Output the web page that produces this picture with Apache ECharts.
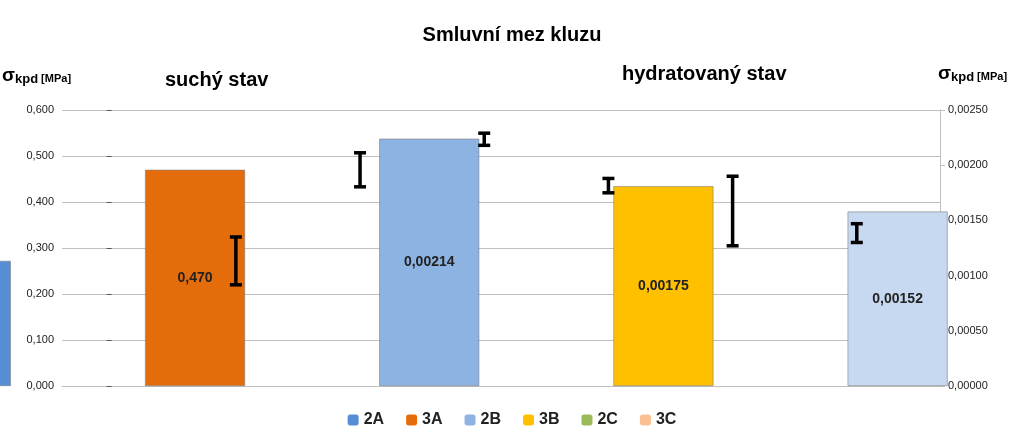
<!DOCTYPE html><html><head><meta charset="utf-8"><script src="https://cdn.jsdelivr.net/npm/echarts@6/dist/echarts.min.js"></script></head><body style="margin:0"><div id="c" style="width:1024px;height:437px"></div><script>
const categories=['','2A','3A','2B','3B','2C','3C'];
const names=['2A','3A','2B','3B','2C','3C'];
const values=[0.272,0.470,0.00224,0.00181,0.00158,0.00138];
const errLow=[0.220,0.433,0.00218,0.00175,0.00127,0.00130];
const errHigh=[0.324,0.507,0.00229,0.00188,0.00190,0.00147];
const labels=['0,272','0,470','0,00214','0,00175','0,00152','0,00133'];
const axisIdx=[0,0,1,1,1,1];
const colors=['#558ed5','#e46c0a','#8db3e2','#ffc000','#c6d9f1','#fac090'];
const legendColors=['#558ed5','#e46c0a','#8db3e2','#ffc000','#9bbb59','#fac090'];
const fmt=(v,d)=>v.toFixed(d).replace('.',',');
const series=names.map((n,i)=>({name:n,type:'bar',yAxisIndex:axisIdx[i],barWidth:100,
 itemStyle:{color:colors[i],borderColor:'#7f7f7f',borderWidth:0.6},
 label:{show:true,position:'inside',formatter:()=>labels[i],color:'#222',fontWeight:'bold',fontSize:14,fontFamily:'Liberation Sans'},
 data:[[categories.indexOf(n),values[i]]]}));
names.forEach((n,i)=>series.push({type:'custom',yAxisIndex:axisIdx[i],z:10,silent:true,
 data:[[categories.indexOf(n),errLow[i],errHigh[i]]],
 renderItem:(p,api)=>{const lo=api.coord([api.value(0),api.value(1)]),hi=api.coord([api.value(0),api.value(2)]);const w=6;
 const st={stroke:'#000',lineWidth:3.5};
 return {type:'group',children:[{type:'line',shape:{x1:lo[0],y1:lo[1],x2:hi[0],y2:hi[1]},style:st},
 {type:'line',shape:{x1:lo[0]-w,y1:lo[1],x2:lo[0]+w,y2:lo[1]},style:st},{type:'line',shape:{x1:hi[0]-w,y1:hi[1],x2:hi[0]+w,y2:hi[1]},style:st}]};}}));
const ch=echarts.init(document.getElementById('c'));
ch.setOption({animation:false,textStyle:{fontFamily:'Liberation Sans'},
 title:{text:'Smluvní mez kluzu',left:'center',top:20,textStyle:{fontSize:20,fontWeight:'bold',color:'#000'}},
 graphic:[{type:'text',left:165,top:70,style:{text:'suchý stav',fontSize:20,fontWeight:'bold',fill:'#000'}},
 {type:'text',left:622,top:64,style:{text:'hydratovaný stav',fontSize:20,fontWeight:'bold',fill:'#000'}},
 {type:'text',left:2,top:66,style:{rich:{a:{fontSize:19,fontWeight:'bold'},b:{fontSize:13,fontWeight:'bold',padding:[8,0,0,0]},c:{fontSize:11,fontWeight:'bold',padding:[6,0,0,3]}},text:'{a|σ}{b|kpd}{c|[MPa]}'}},
 {type:'text',left:938,top:64,style:{rich:{a:{fontSize:19,fontWeight:'bold'},b:{fontSize:13,fontWeight:'bold',padding:[8,0,0,0]},c:{fontSize:11,fontWeight:'bold',padding:[6,0,0,3]}},text:'{a|σ}{b|kpd}{c|[MPa]}'}}],
 legend:{bottom:4,left:'center',itemWidth:11,itemHeight:11,itemGap:22,data:names.map((n,i)=>({name:n,itemStyle:{color:legendColors[i],borderWidth:0}})),textStyle:{fontSize:16,fontWeight:'bold',color:'#222'}},
 grid:{left:62,right:84,top:110,bottom:51},
 xAxis:{type:'value',min:-0.4,max:6.67,axisLabel:{show:false},axisTick:{show:false},splitLine:{show:false},axisLine:{show:true,lineStyle:{color:'#bfbfbf'}}},
 yAxis:[{type:'value',min:0,max:0.6,interval:0.1,axisLabel:{formatter:v=>fmt(v,3),color:'#222',fontSize:11},splitLine:{lineStyle:{color:'#bfbfbf'}},axisLine:{show:false}},
 {type:'value',min:0,max:0.0025,interval:0.0005,axisLabel:{formatter:v=>fmt(v,5),color:'#222',fontSize:11},splitLine:{show:false},axisLine:{show:true,lineStyle:{color:'#bfbfbf'}}}],
 series});
</script></body></html>
